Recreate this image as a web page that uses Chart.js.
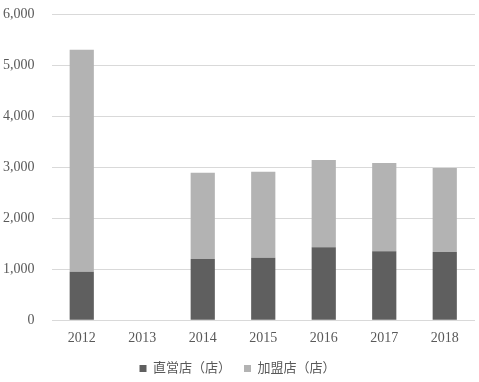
<!DOCTYPE html>
<html>
<head>
<meta charset="utf-8">
<script src="https://cdn.jsdelivr.net/npm/chart.js@4/dist/chart.umd.min.js"></script>
<style>
  html, body { margin: 0; padding: 0; background: #fff; }
  #wrap { width: 479px; height: 382px; }
</style>
</head>
<body>
<div id="wrap"><canvas id="myChart" width="479" height="382"></canvas></div>
<script>
// 年度
var years = ['2012', '2013', '2014', '2015', '2016', '2017', '2018'];
// 直営店（店）
var directStores = [950, null, 1200, 1225, 1430, 1350, 1335];
// 加盟店（店）
var franchiseStores = [4350, null, 1690, 1685, 1710, 1730, 1645];
var yTicks = [0, 1000, 2000, 3000, 4000, 5000, 6000];

var fontFamily = "'Liberation Serif', 'DejaVu Serif', 'Noto Sans CJK JP', serif";

// legend a little shorter than chart.js wants, so everything sits like the original
var legendTrim = {
  id: 'legendTrim',
  beforeInit: function (chart) {
    var origFit = chart.legend.fit;
    chart.legend.fit = function () {
      origFit.bind(chart.legend)();
      this.height -= 3;
    };
  }
};

var ctx = document.getElementById('myChart').getContext('2d');
var myChart = new Chart(ctx, {
  type: 'bar',
  data: {
    labels: years,
    datasets: [
      {
        label: '直営店（店）',
        data: directStores,
        backgroundColor: '#5f5f5f',
        barPercentage: 0.4,
        categoryPercentage: 1.0
      },
      {
        label: '加盟店（店）',
        data: franchiseStores,
        backgroundColor: '#b3b3b3',
        barPercentage: 0.4,
        categoryPercentage: 1.0
      }
    ]
  },
  plugins: [legendTrim],
  options: {
    responsive: false,
    animation: false,
    layout: { padding: { left: 0, right: 4, top: 14, bottom: 0 } },
    plugins: {
      tooltip: { enabled: false },
      legend: {
        position: 'bottom',
        labels: {
          color: '#595959',
          font: { family: fontFamily, size: 13 },
          boxWidth: 7,
          boxHeight: 7,
          padding: 13
        }
      }
    },
    scales: {
      x: {
        stacked: true,
        grid: { display: false, drawTicks: false },
        border: { display: false },
        ticks: { color: '#595959', font: { family: fontFamily, size: 14 }, padding: 10 },
        afterFit: function (axis) { axis.height -= 8; }
      },
      y: {
        stacked: true,
        min: 0,
        max: 6000,
        afterBuildTicks: function (axis) {
          axis.ticks = yTicks.map(function (v) { return { value: v }; });
        },
        grid: { color: '#d9d9d9', drawTicks: true, tickLength: 14, tickColor: 'rgba(0,0,0,0)' },
        border: { display: false },
        ticks: {
          color: '#595959',
          font: { family: fontFamily, size: 14 },
          padding: 3,
          callback: function (v) { return v.toLocaleString('en-US'); }
        }
      }
    }
  }
});
</script>
</body>
</html>
